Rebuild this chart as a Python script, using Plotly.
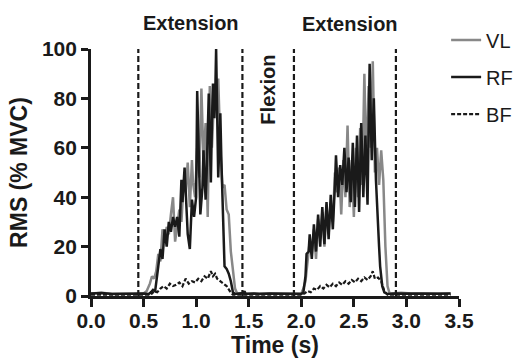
import plotly.graph_objects as go

# ---------------- data ----------------
t_rf = [0.00, 0.10, 0.20, 0.30, 0.40, 0.50, 0.55, 0.57, 0.59, 0.61, 0.62, 0.64, 0.66, 0.68,
        0.70, 0.72, 0.74, 0.76, 0.78, 0.80, 0.82, 0.84, 0.86, 0.87, 0.89, 0.91, 0.92, 0.94,
        0.96, 0.98, 1.00, 1.01, 1.03, 1.04, 1.06, 1.07, 1.09, 1.10, 1.12, 1.13, 1.14, 1.15,
        1.16, 1.17, 1.18, 1.19, 1.20, 1.21, 1.22, 1.23, 1.24, 1.25, 1.26, 1.27, 1.29, 1.31,
        1.33, 1.35, 1.37, 1.40, 1.45, 1.46, 1.47, 1.55, 1.60, 1.70, 1.80, 1.90, 2.00, 2.02,
        2.04, 2.05, 2.07, 2.08, 2.10, 2.12, 2.14, 2.16, 2.18, 2.20, 2.22, 2.24, 2.26, 2.28,
        2.30, 2.32, 2.33, 2.35, 2.37, 2.39, 2.41, 2.43, 2.45, 2.47, 2.49, 2.51, 2.53, 2.55,
        2.57, 2.59, 2.61, 2.63, 2.65, 2.67, 2.69, 2.71, 2.72, 2.74, 2.75, 2.77, 2.79, 2.82,
        2.90, 3.00, 3.10, 3.20, 3.30, 3.42]
rf = [1.0, 1.2, 0.8, 1.0, 0.9, 1.0, 0.8, 1.5, 2.5, 2.0, 6, 12, 19, 15,
      27, 20, 30, 26, 32, 28, 32, 24, 47, 38, 52, 30, 25, 19,
      39, 32, 40, 83, 50, 33, 44, 59, 39, 50, 82, 55, 46, 70,
      86, 72, 78, 100, 70, 48, 60, 74, 55, 39, 20, 12, 11, 9,
      6, 1.5, 0.8, 1.0, 1.2, 2.0, 0.8, 1.0, 0.8, 1.0, 0.9, 1.0, 0.8, 1.5,
      8, 17, 18, 25, 15, 29, 18, 33, 20, 36, 21, 38, 23, 41,
      27, 45, 57, 40, 53, 45, 60, 42, 56, 38, 62, 36, 65, 34,
      70, 40, 65, 37, 94, 55, 80, 47, 36, 20, 12, 4, 1.5, 0.8,
      1.0, 0.9, 1.1, 1.0, 0.9, 1.0]

t_vl = [0.00, 0.10, 0.20, 0.30, 0.40, 0.50, 0.53, 0.56, 0.58, 0.60, 0.62, 0.64, 0.66, 0.68,
        0.70, 0.72, 0.74, 0.76, 0.78, 0.80, 0.82, 0.84, 0.86, 0.88, 0.90, 0.92, 0.94, 0.96,
        0.97, 0.99, 1.01, 1.03, 1.05, 1.07, 1.09, 1.11, 1.13, 1.15, 1.17, 1.19, 1.21, 1.23,
        1.25, 1.27, 1.29, 1.31, 1.33, 1.35, 1.37, 1.39, 1.45, 1.55, 1.65, 1.75, 1.85, 1.95,
        2.00, 2.02, 2.04, 2.06, 2.08, 2.10, 2.12, 2.14, 2.16, 2.18, 2.20, 2.22, 2.24, 2.26,
        2.28, 2.30, 2.32, 2.34, 2.36, 2.38, 2.40, 2.42, 2.44, 2.46, 2.48, 2.50, 2.52, 2.54,
        2.56, 2.58, 2.60, 2.62, 2.64, 2.66, 2.68, 2.70, 2.72, 2.74, 2.76, 2.78, 2.80, 2.82,
        2.84, 2.95, 3.05, 3.15, 3.25, 3.35, 3.42]
vl = [1.0, 1.3, 0.9, 1.1, 1.0, 1.0, 2, 5, 8, 7, 10, 17, 14, 27,
      22, 28, 25, 33, 40, 22, 29, 35, 30, 45, 42, 54, 36, 55,
      46, 40, 60, 48, 84, 55, 70, 32, 85, 60, 80, 72, 88, 60,
      44, 45, 35, 33, 18, 10, 3, 1, 1.0, 1.2, 0.9, 1.0, 1.1, 1.0,
      1.0, 3, 6, 14, 22, 17, 27, 15, 31, 23, 34, 20, 37, 25,
      38, 30, 50, 42, 52, 33, 55, 40, 69, 36, 55, 32, 60, 40,
      68, 45, 90, 50, 85, 60, 95, 50, 60, 45, 59, 47, 20, 4,
      1.0, 1.3, 1.0, 1.1, 0.9, 1.0, 1.0]

t_bf = [0.00, 0.20, 0.40, 0.55, 0.58, 0.60, 0.63, 0.66, 0.69, 0.72, 0.75, 0.78, 0.81, 0.84,
        0.87, 0.90, 0.93, 0.96, 0.99, 1.02, 1.05, 1.08, 1.11, 1.14, 1.16, 1.18, 1.20, 1.23,
        1.26, 1.29, 1.32, 1.35, 1.45, 1.60, 1.80, 2.00, 2.03, 2.06, 2.09, 2.12, 2.15, 2.18,
        2.21, 2.24, 2.27, 2.30, 2.33, 2.36, 2.39, 2.42, 2.45, 2.48, 2.51, 2.54, 2.57, 2.60,
        2.63, 2.66, 2.68, 2.70, 2.73, 2.76, 2.79, 2.82, 3.00, 3.20, 3.42]
bf = [0.5, 0.6, 0.5, 0.5, 1, 2, 1.5, 3, 4, 3, 5, 4, 4.5, 5.5,
      4, 7, 5, 6, 5.5, 7, 6, 8, 7, 10, 8, 9, 7, 6,
      5, 4, 2, 0.5, 0.5, 0.6, 0.5, 0.5, 1, 2, 1.5, 3, 2.5, 4,
      3, 4.5, 3.5, 5, 4, 5.5, 4.5, 6, 5, 6.5, 5.5, 7, 6, 7.5,
      6.5, 8, 10, 7, 7.5, 6, 2, 0.5, 0.5, 0.6, 0.5]

phase_bounds = [0.45, 1.44, 1.93, 2.90]
phase_labels = ["Extension", "Flexion", "Extension"]
phase_label_x = [0.95, 1.68, 2.46]
phase_label_y = [1.105, 0.834, 1.10]   # paper fraction of plot height
phase_label_angle = [0, -90, 0]

x_ticks = [0.0, 0.5, 1.0, 1.5, 2.0, 2.5, 3.0, 3.5]
y_ticks = [0, 20, 40, 60, 80, 100]

FONT = "Liberation Sans"
INK = "#1a1a1a"

fig = go.Figure()
fig.add_trace(go.Scatter(x=t_vl, y=vl, mode="lines", name="VL", legendgroup="a",
                         line=dict(color="#888888", width=2.5)))
fig.add_trace(go.Scatter(x=t_rf, y=rf, mode="lines", name="RF", legendgroup="b",
                         line=dict(color=INK, width=2.5)))
fig.add_trace(go.Scatter(x=t_bf, y=bf, mode="lines", name="BF", legendgroup="c",
                         line=dict(color=INK, width=2.2, dash="4px,2px")))

for xb in phase_bounds:
    fig.add_shape(type="line", x0=xb, x1=xb, y0=0, y1=100, xref="x", yref="y",
                  line=dict(color=INK, width=2.2, dash="6px,3px"))

for lab, lx, ly, ang in zip(phase_labels, phase_label_x, phase_label_y, phase_label_angle):
    fig.add_annotation(x=lx, y=ly, xref="x", yref="paper", text="<b>%s</b>" % lab,
                       showarrow=False, textangle=ang, xanchor="center", yanchor="middle",
                       font=dict(family=FONT, size=20, color=INK))

fig.update_layout(
    width=527, height=360,
    margin=dict(l=91, r=68, t=49, b=64, autoexpand=False),
    paper_bgcolor="white", plot_bgcolor="white",
    font=dict(family=FONT, color=INK),
    showlegend=True,
    legend=dict(x=0.965, y=1.115, xanchor="left", yanchor="top",
                traceorder="grouped", tracegroupgap=8,
                font=dict(family=FONT, size=20, color=INK),
                bgcolor="rgba(0,0,0,0)"),
)
fig.update_xaxes(range=[0, 3.5], tickvals=x_ticks, ticktext=["%.1f" % v for v in x_ticks],
                 showgrid=False, zeroline=False, showline=True, linecolor=INK,
                 linewidth=2.7, ticks="outside", ticklen=8, tickwidth=2.5, tickcolor=INK,
                 ticklabelstandoff=-4,
                 tickfont=dict(family=FONT, size=21, color=INK, weight="bold"),
                 title=dict(text="<b>Time (s)</b>", font=dict(family=FONT, size=23), standoff=0))
fig.update_yaxes(range=[0, 100], tickvals=y_ticks, showgrid=False, zeroline=False,
                 showline=True, linecolor=INK, linewidth=2.7, ticks="outside",
                 ticklen=7, tickwidth=2.5, tickcolor=INK,
                 tickfont=dict(family=FONT, size=21, color=INK, weight="bold"),
                 title=dict(text="<b>RMS (% MVC)</b>", font=dict(family=FONT, size=23), standoff=8))

fig.write_html("out.html", config={"displayModeBar": False},
               post_script="document.body.style.margin='0';")
